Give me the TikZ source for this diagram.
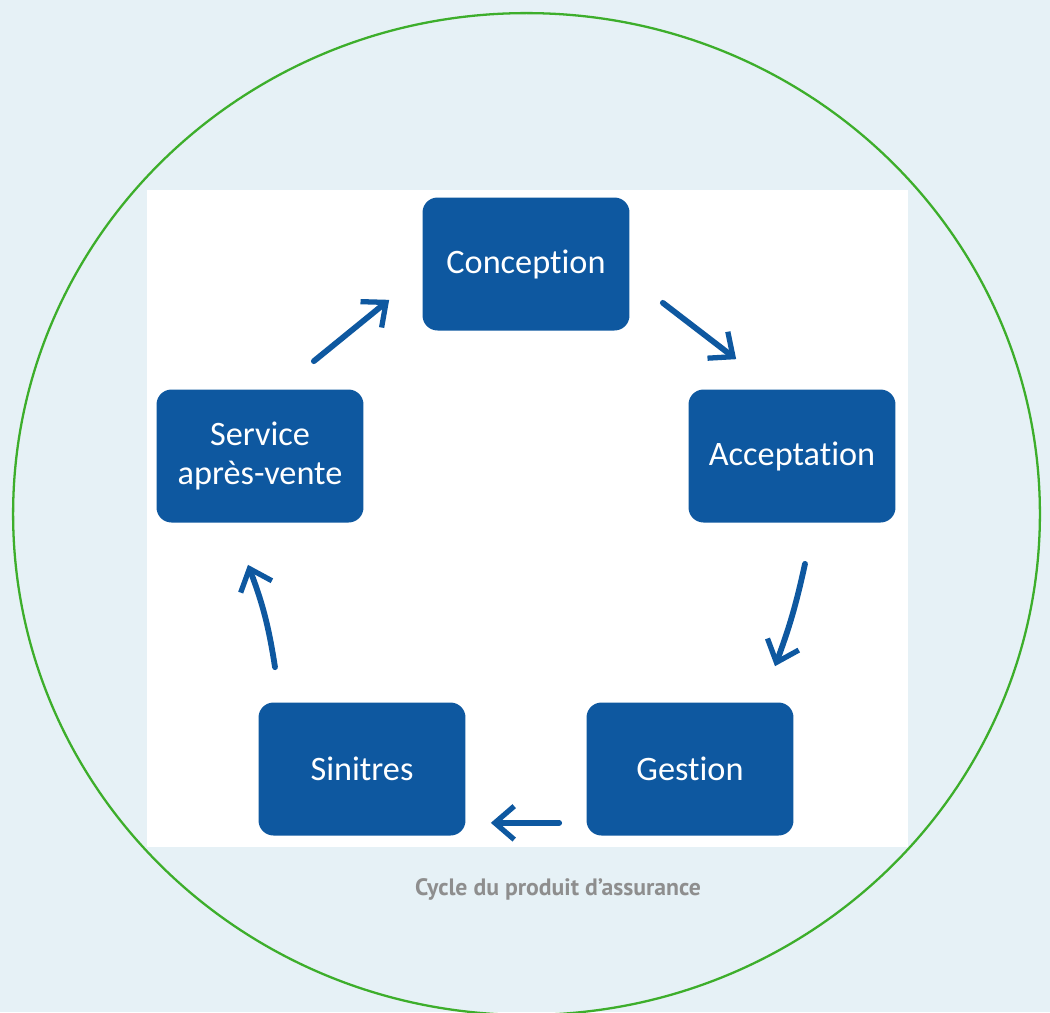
\documentclass[tikz,border=0pt]{standalone}
\usepackage{fontspec}
\setmainfont{Carlito}[Ligatures=NoCommon]
\newfontfamily\capfont{PT Sans}
\usetikzlibrary{arrows.meta}

\definecolor{pageblue}{HTML}{E6F1F6}
\definecolor{boxblue}{HTML}{0E58A0}
\definecolor{ringgreen}{HTML}{3DAE2B}
\definecolor{capgray}{HTML}{8E8E8E}

\providecommand*{\boxW}{}
\providecommand*{\boxH}{}
\renewcommand*{\boxW}{4.14cm}
\renewcommand*{\boxH}{2.66cm}

\tikzset{
  stage/.style={fill=boxblue, rounded corners=0.3cm, minimum width=\boxW,
    minimum height=\boxH, text=white, align=center,
    font=\fontsize{19.5}{21}\selectfont},
  flow/.style={draw=boxblue, line width=3.3pt, line cap=round,
    -{Straight Barb[length=11pt,width=19pt,line width=3pt]}},
}

\begin{document}
\begin{tikzpicture}[x=0.02cm,y=-0.02cm]
  % page, frame and ring
  \fill [pageblue] (0,0) rectangle (1050,1012);
  \useasboundingbox (0,0) rectangle (1050,1012);
  \fill [white] (147,190) rectangle (908,847);
  \draw [ringgreen,line width=1.3pt] (526.5,514) ellipse [x radius=10.27cm, y radius=10.02cm];

  % the five stages
  \node [stage] (conc) at (526,264) {Conception};
  \node [stage] (acc)  at (792,456) {Acceptation};
  \node [stage] (gest) at (690,769) {Gestion};
  \node [stage] (sin)  at (362,769) {Sinitres};
  \node [stage] (serv) at (260,456) {Service\\[1pt]après-vente};

  % arrows round the cycle
  \draw [flow] ([shift={(-50,-28)}]serv.north east) -- ([shift={(-33,-31)}]conc.south west);
  \draw [flow] ([shift={(33,-28)}]conc.south east) -- ([shift={(48,-30)}]acc.north west);
  \draw [flow] ([shift={(13,41)}]acc.south) to [bend left=4] ([shift={(85,-36)}]gest.north);
  \draw [flow] ([shift={(-27,-13)}]gest.south west) -- ([shift={(25,-13)}]sin.south east);
  \draw [flow] ([shift={(-87,-35)}]sin.north) to [bend right=6] ([shift={(-12,42)}]serv.south);

  % caption
  \node [text=capgray, font=\capfont\bfseries\fontsize{13.5}{15}\selectfont] (caption)
    at (558,889) {Cycle du produit d’assurance};
\end{tikzpicture}
\end{document}
